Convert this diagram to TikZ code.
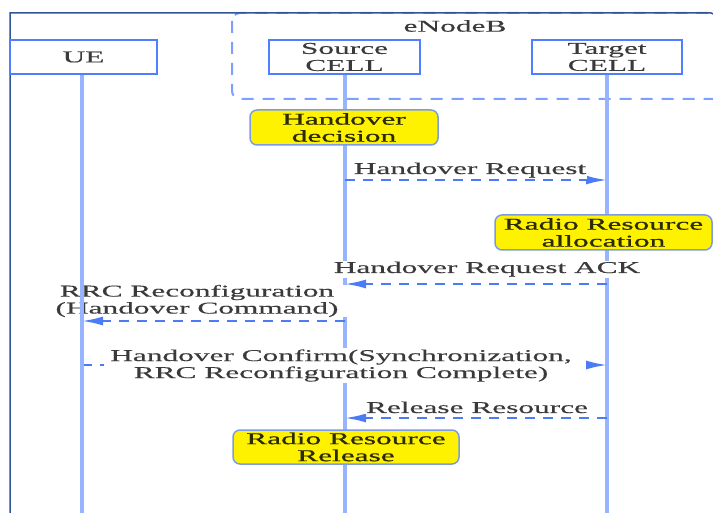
\documentclass[tikz,border=0pt]{standalone}
\usepackage{fontspec}
\setmainfont{Liberation Serif}
\newfontfamily\wfam[FakeStretch=1.9,FakeBold=0.3]{Liberation Serif}
\newfontfamily\bfam[FakeStretch=1.9,FakeBold=0.8]{Liberation Serif}
\newcommand\wf{\wfam\fontsize{16.5pt}{17pt}\selectfont}
\newcommand\nf{\bfam\fontsize{16.5pt}{17pt}\selectfont}
\usetikzlibrary{arrows.meta}
\definecolor{frameblue}{HTML}{2F5597}
\definecolor{boxblue}{HTML}{4F7FFF}
\definecolor{lifeblue}{HTML}{96B4FF}
\definecolor{dashblue}{HTML}{4C7CF5}
\definecolor{enbblue}{HTML}{7DA0FF}
\definecolor{textgray}{HTML}{3A3A3A}
\definecolor{notebd}{HTML}{7C9BE0}
\definecolor{notetext}{HTML}{2B2B00}
\begin{document}
\begin{tikzpicture}[x=1pt,y=-1pt,
  hdr/.style={draw=boxblue, line width=2pt, minimum height=34pt, inner sep=0pt, font=\wf, text=textgray, align=center},
  note/.style={draw=notebd, fill=yellow, rounded corners=7pt, line width=1.5pt, minimum height=35pt, inner sep=0pt, font=\nf, text=notetext, align=center},
  lbl/.style={fill=white, font=\wf, text=textgray, align=center, inner sep=1pt},
  life/.style={draw=lifeblue, line width=4pt},
  msg/.style={draw=dashblue, line width=2pt, dash pattern=on 10pt off 8pt, -{Latex[length=21pt,width=9pt]}}
]
\useasboundingbox (0,0) rectangle (713,513);
\clip (0,0) rectangle (713,513);

% eNodeB group
\draw[enbblue, line width=2pt, dash pattern=on 12pt off 9pt, rounded corners=8pt] (232,13) rectangle (740,99);
\node[font=\wf, text=textgray] (enb) at (455,26) {eNodeB};

% outer frame
\draw[frameblue, line width=1.5pt] (10,540) -- (10,13) -- (711,13) to[out=0,in=90] (715,17) -- (715,540);

% headers
\node[hdr, minimum width=147pt] (ue) at (83.5,57) {UE};
\node[hdr, minimum width=151pt] (src) at (344.5,57) {Source\\CELL};
\node[hdr, minimum width=150pt] (tgt) at (607,57) {Target\\CELL};

% lifeline ends
\coordinate (uebot) at (82,513);
\coordinate (srcbot) at (345,513);
\coordinate (tgtbot) at (607,513);
\draw[life] (src.south -| srcbot) -- (srcbot);
\draw[life] (tgt.south -| tgtbot) -- (tgtbot);

% message points
\coordinate (s1) at (345,180); \coordinate (t1) at (607,180);
\coordinate (t2) at (607,284); \coordinate (s2) at (345,284);
\coordinate (s3) at (345,321); \coordinate (u3) at (82,321);
\coordinate (u4) at (82,365);  \coordinate (t4) at (607,365);
\coordinate (t5) at (607,418); \coordinate (s5) at (345,418);

\draw[msg] (s1) -- (t1);
\draw[msg] (t2) -- (s2);
\draw[msg] (u4) -- (t4);
\draw[msg] (t5) -- (s5);

% labels
\node[lbl, anchor=base] (l1) at (470,174) {Handover Request};
\node[lbl, anchor=base] (l2) at (487,273) {Handover Request ACK};
\node[lbl, inner xsep=10pt, inner ysep=0pt] (l3) at (197,301) {RRC Reconfiguration\\(Handover Command)};
\node[lbl, inner xsep=6pt] (l4) at (341,365.5) {Handover Confirm(Synchronization,\\RRC Reconfiguration Complete)};
\node[lbl, anchor=base, inner xsep=14pt] (l5) at (477,413) {Release Resource};

% UE lifeline above the labels
\draw[life] (ue.south -| uebot) -- (uebot);
\draw[msg] (s3) -- (u3);

% notes
\node[note, minimum width=188pt] (n1) at (344,127.5) {Handover\\decision};
\node[note, minimum width=217pt] (n2) at (603.5,232.5) {Radio Resource\\allocation};
\node[note, minimum width=226pt, minimum height=34pt] (n3) at (346,447) {Radio Resource\\Release};
\end{tikzpicture}
\end{document}
